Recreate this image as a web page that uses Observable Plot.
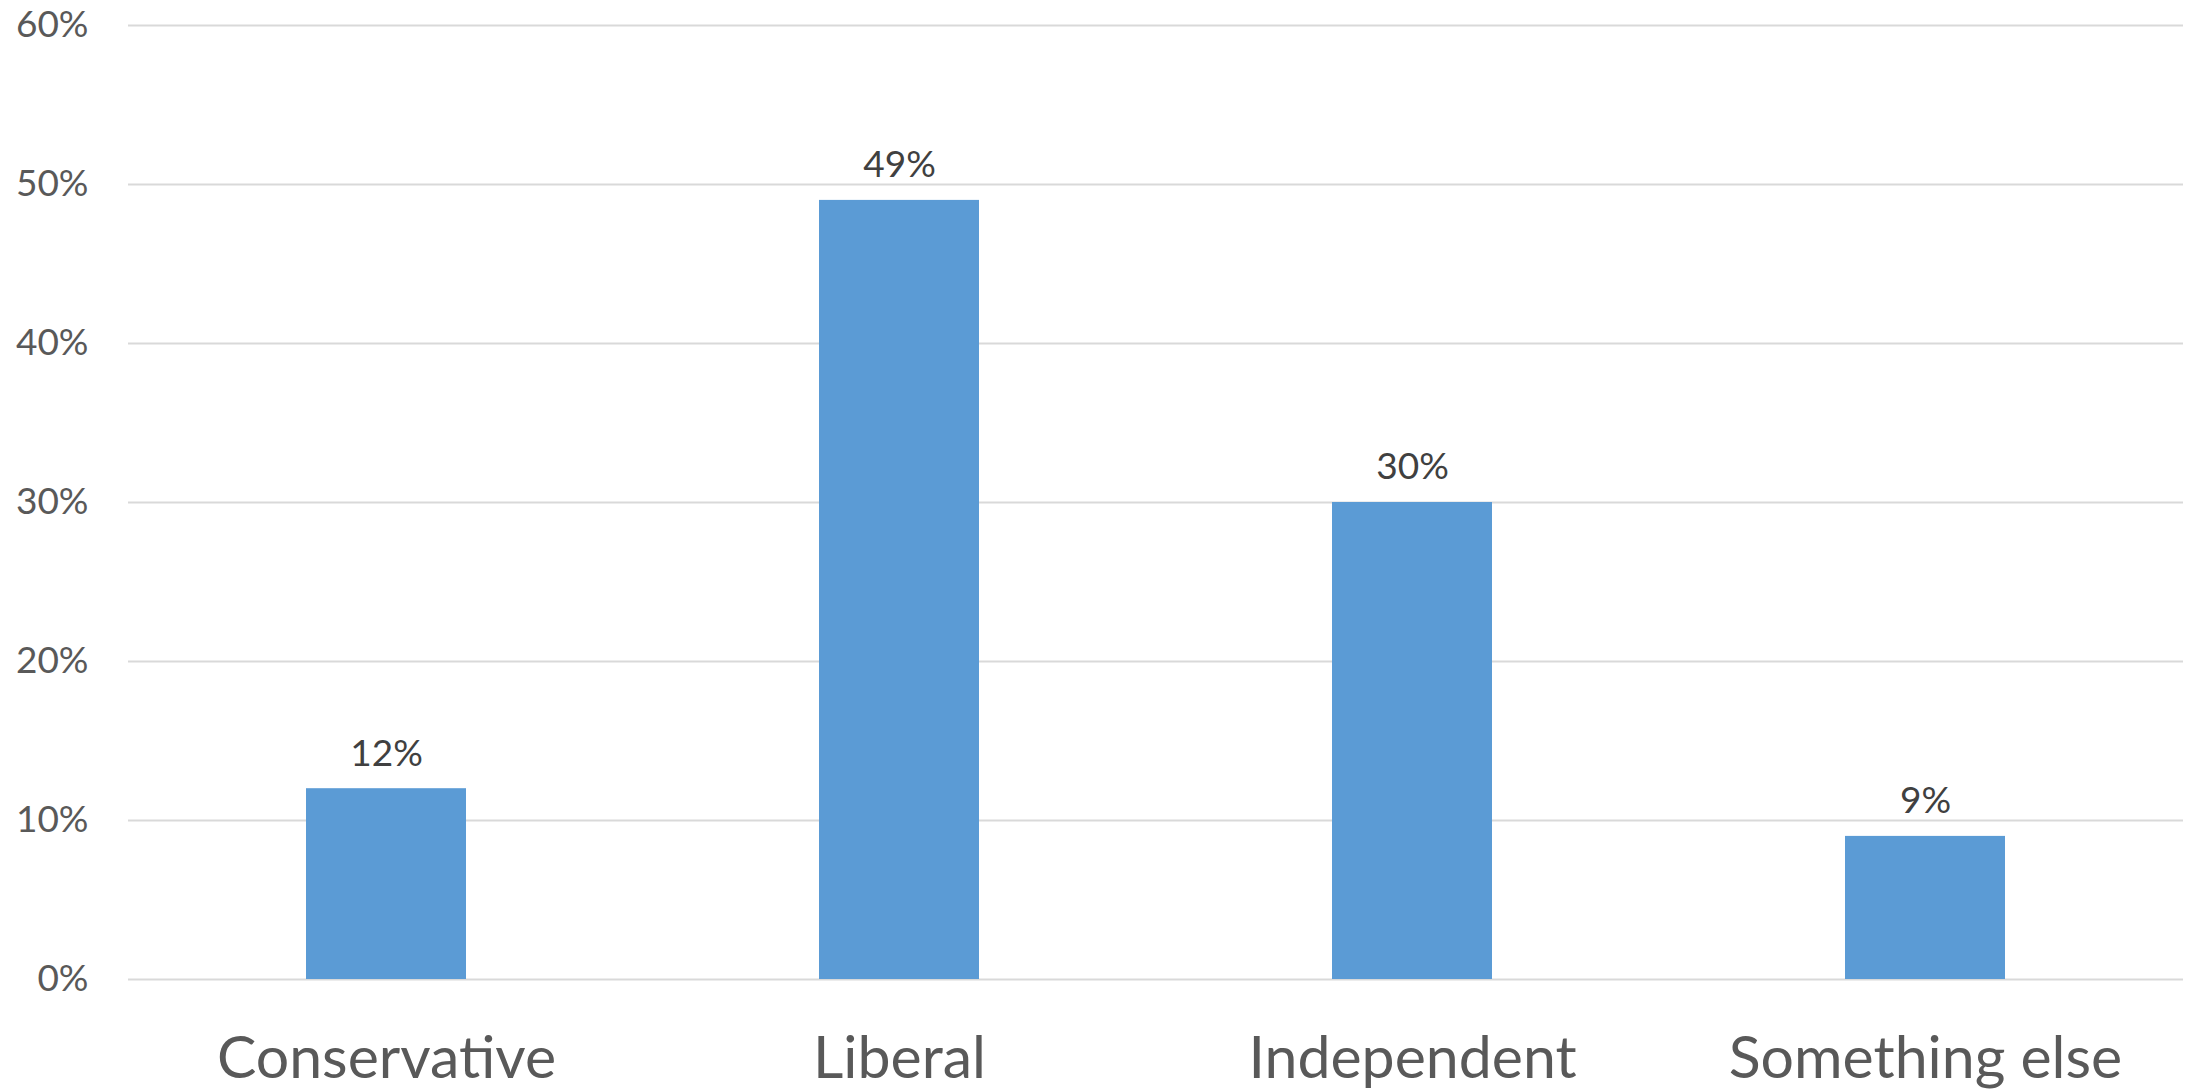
<!DOCTYPE html>
<html>
<head>
<meta charset="utf-8">
<script src="https://cdn.jsdelivr.net/npm/d3@7"></script>
<script src="https://cdn.jsdelivr.net/npm/@observablehq/plot@0.6"></script>
<style>
  html, body { margin: 0; padding: 0; background: #fff; }
  svg { display: block; }
</style>
</head>
<body>
<div id="chart"></div>
<script>
const categories = ["Conservative", "Liberal", "Independent", "Something else"];
const values = [0.12, 0.49, 0.30, 0.09];
const yTicks = [0, 0.1, 0.2, 0.3, 0.4, 0.5, 0.6];

const data = categories.map((c, i) => ({category: c, value: values[i]}));
const font = "Lato, 'Open Sans', sans-serif";

const chart = Plot.plot({
  width: 2190,
  height: 1092,
  marginLeft: 128,
  marginRight: 7,
  marginTop: 25,
  marginBottom: 113,
  style: {fontFamily: font, background: "#fff"},
  x: {domain: categories, paddingInner: 0.689, paddingOuter: 0.3445, label: null},
  y: {domain: [0, 0.6], label: null},
  marks: [
    Plot.gridY(yTicks, {stroke: "#d9d9d9", strokeOpacity: 1, strokeWidth: 2}),
    Plot.barY(data, {x: "category", y: "value", fill: "#5b9bd5"}),
    Plot.text(data, {x: "category", y: "value", text: d => Math.round(d.value * 100) + "%",
      dy: -35, fill: "#404040", fontSize: 37, fontFamily: font}),
    Plot.axisY(yTicks, {tickSize: 0, tickPadding: 40, tickFormat: d => Math.round(d * 100) + "%",
      fontSize: 37, fill: "#595959", label: null}),
    Plot.axisX({tickSize: 0, tickPadding: 57, fontSize: 59, fill: "#595959", label: null})
  ]
});
document.getElementById("chart").appendChild(chart);
</script>
</body>
</html>
